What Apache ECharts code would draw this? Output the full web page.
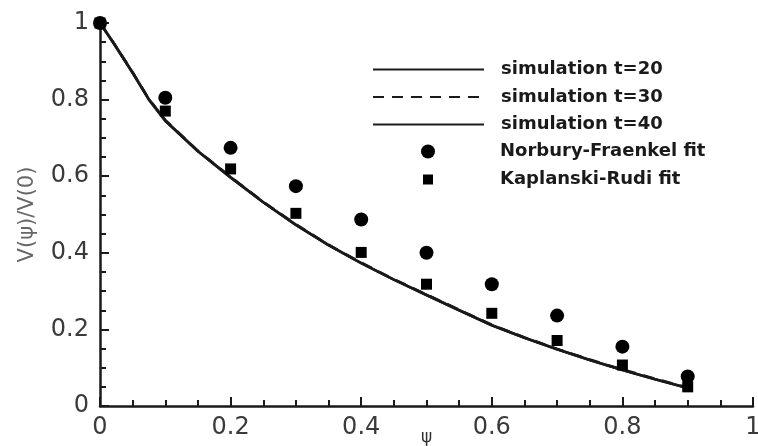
<!DOCTYPE html>
<html>
<head>
<meta charset="utf-8">
<script src="https://cdn.jsdelivr.net/npm/echarts@6/dist/echarts.min.js"></script>
<style>
  html, body { margin: 0; padding: 0; background: #fff; }
  #chart { width: 758px; height: 446px; }
</style>
</head>
<body>
<div id="chart"></div>
<script>
// Profile V(psi)/V(0) against psi: simulations at three times and two fits.
const psiSim = [0, 0.02, 0.05, 0.075, 0.1, 0.15, 0.2, 0.25, 0.3, 0.35, 0.4, 0.45, 0.5, 0.55, 0.6, 0.65, 0.7, 0.75, 0.8, 0.85, 0.9];
const simT20 = [1.0, 0.95, 0.87, 0.80, 0.745, 0.665, 0.597, 0.532, 0.473, 0.42, 0.373, 0.33, 0.29, 0.25, 0.211, 0.178, 0.148, 0.12, 0.094, 0.07, 0.047];
const simT30 = [1.0, 0.95, 0.871, 0.801, 0.746, 0.666, 0.598, 0.533, 0.474, 0.421, 0.374, 0.331, 0.291, 0.251, 0.212, 0.179, 0.149, 0.121, 0.095, 0.071, 0.048];
const simT40 = [1.0, 0.95, 0.87, 0.80, 0.745, 0.665, 0.597, 0.532, 0.473, 0.42, 0.373, 0.33, 0.29, 0.25, 0.211, 0.178, 0.148, 0.12, 0.094, 0.07, 0.047];

const psiFit = [0, 0.1, 0.2, 0.3, 0.4, 0.5, 0.6, 0.7, 0.8, 0.9];
const norburyFraenkel = [1.0, 0.805, 0.674, 0.574, 0.487, 0.40, 0.318, 0.236, 0.155, 0.077];
const kaplanskiRudi = [1.0, 0.77, 0.619, 0.503, 0.401, 0.318, 0.242, 0.171, 0.107, 0.05];

const seriesNames = ['simulation t=20', 'simulation t=30', 'simulation t=40', 'Norbury-Fraenkel fit', 'Kaplanski-Rudi fit'];
const xTicks = [0, 0.2, 0.4, 0.6, 0.8, 1];
const yTicks = [0, 0.2, 0.4, 0.6, 0.8, 1];

const pairs = (xs, ys) => xs.map((x, i) => [x, ys[i]]);
const ink = '#1a1a1a';

const legendText = (padLeft) => ({
  color: ink,
  fontFamily: 'DejaVu Sans',
  fontWeight: 'bold',
  fontSize: 18,
  lineHeight: 20,
  padding: [0, 0, 0, padLeft]
});
const legendBase = {
  orient: 'vertical',
  align: 'left',
  padding: 0,
  itemGap: 7.5,
  selectedMode: false
};

const axisCommon = {
  type: 'value',
  min: 0,
  max: 1,
  interval: 0.2,
  nameMoveOverlap: false,
  axisLine: { show: true, lineStyle: { color: ink, width: 2.5 } },
  axisTick: { show: true, inside: true, length: 9, lineStyle: { color: ink, width: 2 } },
  minorTick: { show: true, splitNumber: 4, length: 6, lineStyle: { color: ink, width: 2 } },
  splitLine: { show: false },
  axisLabel: {
    color: '#3a3a3a',
    fontFamily: 'DejaVu Sans',
    fontSize: 24
  }
};

const chart = echarts.init(document.getElementById('chart'), null, { renderer: 'canvas' });

chart.setOption({
  animation: false,
  backgroundColor: '#fff',
  grid: { left: 100, right: 5, top: 23, bottom: 40, containLabel: false, outerBoundsMode: 'none' },
  legend: [
    // line keys: the marker of the line icon is hidden, only the stroke shows
    Object.assign({}, legendBase, {
      left: 372, top: 59.5, itemWidth: 111, itemHeight: 14,
      itemStyle: { opacity: 0 },
      textStyle: legendText(12),
      data: seriesNames.slice(0, 3)
    }),
    Object.assign({}, legendBase, {
      left: 421, top: 141.5, itemWidth: 14, itemHeight: 14,
      textStyle: legendText(60),
      data: [{ name: seriesNames[3], icon: 'circle' }]
    }),
    Object.assign({}, legendBase, {
      left: 423, top: 169.5, itemWidth: 10, itemHeight: 10,
      textStyle: legendText(62),
      data: [{ name: seriesNames[4], icon: 'rect' }]
    })
  ],
  xAxis: Object.assign({}, axisCommon, {
    name: 'ψ',
    nameLocation: 'middle',
    nameGap: 23,
    nameTextStyle: { color: '#333', fontFamily: 'DejaVu Sans', fontSize: 17 },
    axisLabel: Object.assign({}, axisCommon.axisLabel, {
      margin: 10,
      customValues: xTicks
    })
  }),
  yAxis: Object.assign({}, axisCommon, {
    name: 'V(ψ)/V(0)',
    nameLocation: 'middle',
    nameGap: 62,
    nameRotate: 90,
    nameTextStyle: { color: '#666', fontFamily: 'DejaVu Sans', fontSize: 21 },
    axisLabel: Object.assign({}, axisCommon.axisLabel, {
      margin: 11,
      customValues: yTicks
    })
  }),
  series: [
    {
      name: seriesNames[0], type: 'line', data: pairs(psiSim, simT20),
      symbol: 'none', lineStyle: { color: ink, width: 2.7 }, itemStyle: { color: ink }, z: 2
    },
    {
      name: seriesNames[1], type: 'line', data: pairs(psiSim, simT30),
      symbol: 'none', lineStyle: { color: ink, width: 2.7, type: [11, 8] }, itemStyle: { color: ink }, z: 1
    },
    {
      name: seriesNames[2], type: 'line', data: pairs(psiSim, simT40),
      symbol: 'none', lineStyle: { color: ink, width: 2.7 }, itemStyle: { color: ink }, z: 2
    },
    {
      name: seriesNames[3], type: 'scatter', data: pairs(psiFit, norburyFraenkel),
      symbol: 'circle', symbolSize: 14, itemStyle: { color: '#000', opacity: 1 }, z: 3
    },
    {
      name: seriesNames[4], type: 'scatter', data: pairs(psiFit, kaplanskiRudi),
      symbol: 'rect', symbolSize: 11, itemStyle: { color: '#000', opacity: 1 }, z: 4
    }
  ]
});
</script>
</body>
</html>
